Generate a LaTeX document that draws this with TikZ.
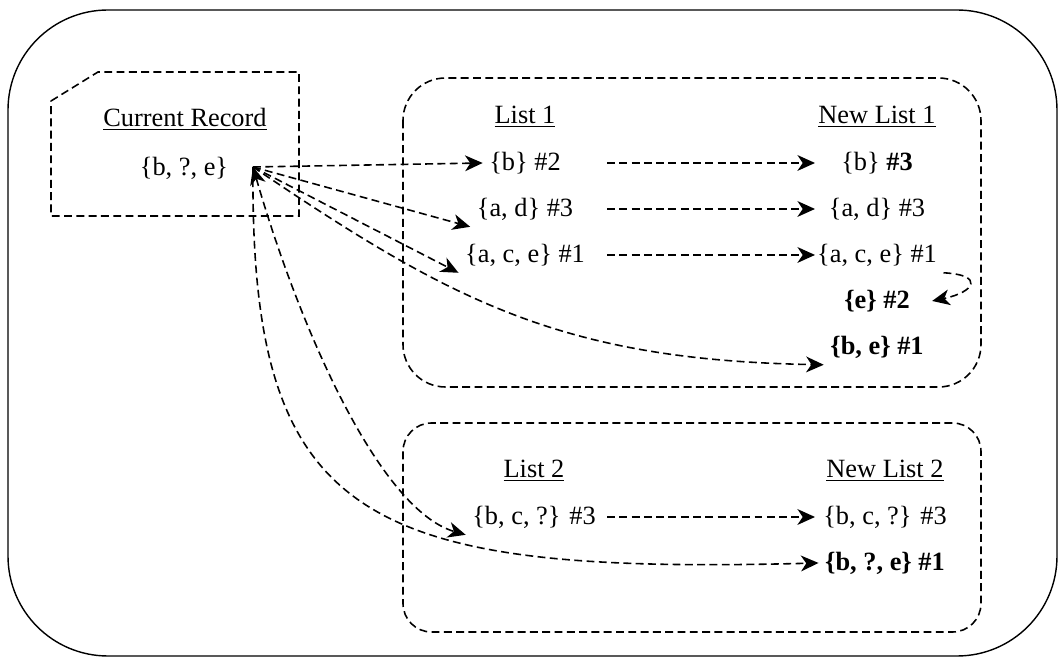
\documentclass[tikz,border=0pt]{standalone}
\usepackage{fontspec}
\setmainfont{Liberation Serif}
\usepackage{tikz}
\usetikzlibrary{arrows.meta, positioning}

\begin{document}
\begin{tikzpicture}[x=0.02cm, y=-0.02cm, node distance=0.92cm, font=\fontsize{15}{18}\selectfont, line width=0.9pt, >={Stealth[length=10pt,width=9pt,inset=3pt]}]
		\tikzstyle{outer} = [draw=black, rounded corners=2cm, line width=0.8pt]
		
		\tikzstyle{listbox} = [draw=black, dash pattern=on 4.5pt off 2.5pt, rounded corners=0.85cm]
		
		\tikzstyle{record} = [draw=black, dash pattern=on 4.5pt off 2.5pt]
		
		\tikzstyle{arrow} = [->, dash pattern=on 4.5pt off 2.5pt]
		
		\useasboundingbox (0,0) rectangle (1059,658);
		
		% Frames
		\draw [outer] (8,10) rectangle (1057,656);
		\draw [listbox] (403,78) rectangle (981,387);
		\draw [listbox, rounded corners=0.57cm] (403,423) rectangle (981,632);
		\draw [record] (51,101) -- (98,72) -- (299,72) -- (299,216) -- (51,216) -- cycle;
		
		% Current record
		\node (rec) at (185,119) {\underline{Current Record}};
		\node (recset) at (184,168) {\{b, ?, e\}};
		\coordinate (src) at (253,167);
		
		% List 1 and its new version
		\node (list1) at (525,117) {\underline{List 1}};
		\node (b2) [below of = list1] {\{b\} \#2};
		\node (ad3) [below of = b2] {\{a, d\} \#3};
		\node (ace1) [below of = ad3] {\{a, c, e\} \#1};
		
		\node (nlist1) at (877,117) {\underline{New List 1}};
		\node (nb3) [below of = nlist1] {\{b\} \textbf{\#3}};
		\node (nad3) [below of = nb3] {\{a, d\} \#3};
		\node (nace1) [below of = nad3] {\{a, c, e\} \#1};
		\node (ne2) [below of = nace1] {\textbf{\{e\} \#2}};
		\node (nbe1) [below of = ne2] {\textbf{\{b, e\} \#1}};
		
		% List 2 and its new version
		\node (list2) at (534,471) {\underline{List 2}};
		\node (bcq3) [below of = list2] {\{b, c, ?\} \#3};
		
		\node (nlist2) at (885,471) {\underline{New List 2}};
		\node (nbcq3) [below of = nlist2] {\{b, c, ?\} \#3};
		\node (nbqe1) [below of = nbcq3] {\textbf{\{b, ?, e\} \#1}};
		
		% columns where the copy arrows start and end
		\coordinate (from) at (607,0);
		\coordinate (to) at (815,0);
		
		% Arrows
		\draw [arrow] (src) -- (b2.west);
		\draw [arrow] (src) -- (ad3.south west);
		\draw [arrow] (src) -- (ace1.south west);
		\draw [arrow] (src) .. controls (450,300) and (560,360) .. (nbe1.south west);
		\draw [arrow, <->] (src) .. controls (300,330) and (380,510) .. (bcq3.south west);
		\draw [arrow] (src) .. controls (250,520) and (360,575) .. (nbqe1.west);
		
		\draw [arrow] (b2 -| from) -- (nb3 -| to);
		\draw [arrow] (ad3 -| from) -- (nad3 -| to);
		\draw [arrow] (ace1 -| from) -- (nace1 -| to);
		\draw [arrow] (bcq3 -| from) -- (nbcq3 -| to);
		\draw [arrow] (nace1.south east) .. controls (985,275) and (975,292) .. ([xshift=9pt]ne2.east);
		
\end{tikzpicture}
\end{document}
